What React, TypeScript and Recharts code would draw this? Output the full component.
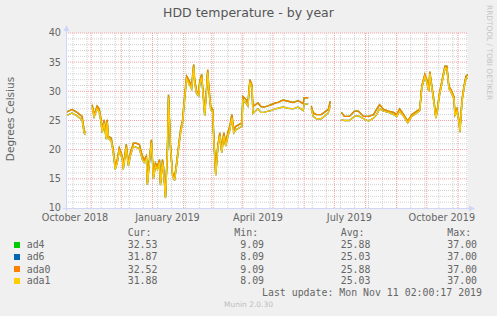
import React from "react";
import { LineChart, Line, XAxis, YAxis, CartesianGrid, ReferenceLine } from "recharts";

// day 0 = 2018-10-07, graph spans 400 days up to 2019-11-11
const START = Date.UTC(2018, 9, 7);
const dayOf = (y: number, m: number, d: number) => Math.round((Date.UTC(y, m - 1, d) - START) / 86400000);

const days = [
  0, 6, 11, 16, 18, 19, 20, 26, 28, 31,
  33, 35, 36, 38, 40, 41, 42, 45, 47, 49,
  51, 53, 56, 57, 60, 62, 64, 67, 70, 73,
  76, 78, 80, 81, 83, 85, 87, 89, 91, 93,
  94, 96, 97, 99, 101, 102, 104, 106, 108, 110,
  112, 114, 116, 118, 120, 122, 125, 127, 128, 130,
  132, 133, 135, 137, 138, 140, 141, 142, 144, 146,
  147, 149, 151, 153, 155, 157, 159, 161, 163, 165,
  167, 169, 172, 175, 176, 179, 181, 183, 185, 186,
  191, 194, 197, 201, 204, 208, 211, 216, 221, 226,
  231, 236, 237, 241, 242, 244, 246, 249, 254, 257,
  261, 263, 264, 274, 277, 282, 287, 291, 296, 301,
  306, 309, 312, 316, 321, 326, 329, 332, 336, 340,
  344, 349, 352, 354, 357, 359, 361, 362, 364, 366,
  368, 370, 371, 373, 375, 377, 379, 381, 383, 386,
  387, 389, 391, 392, 394, 396, 398, 400,
];

const ada0 = [
  26.4, 26.9, 26.4, 25.7, 23.4, 22.9, null, 27.7, 26.0, 27.5,
  27.0, 25.1, 23.4, 25.1, 22.3, 25.1, 22.3, 22.0, 20.0, 17.1,
  18.3, 20.3, 18.9, 17.1, 20.9, 17.7, 19.4, 21.1, 21.1, 20.9,
  18.9, 18.3, 18.9, 14.3, 18.3, 21.7, 15.4, 17.7, 17.1, 18.3,
  14.3, 18.3, 17.1, 12.0, 20.6, 29.4, 20.6, 16.0, 15.1, 17.7,
  20.6, 23.4, 25.1, 29.1, 32.6, 32.0, 30.9, 34.6, 32.0, 30.0,
  29.7, 31.7, 32.9, 28.6, 26.3, 30.9, 33.7, 31.0, 27.4, 26.9,
  22.3, 16.0, 20.6, 22.9, 20.0, 22.9, 21.1, 22.9, 24.0, 26.0,
  23.4, 24.0, 24.3, 24.6, 29.1, 28.6, 28.0, 32.0, 31.1, 27.4,
  28.0, 27.4, 27.3, 27.5, 27.7, 28.0, 28.1, 28.5, 28.3, 28.1,
  28.4, 27.9, 28.9, 28.9, null, 27.5, 26.3, 26.0, 26.0, 26.4,
  26.9, 28.3, null, 26.4, 25.7, 25.7, 26.6, 26.6, 25.7, 25.7,
  26.0, 26.9, 27.7, 26.9, 26.6, 26.4, 26.0, 27.0, 26.0, 24.9,
  26.0, 26.6, 26.9, 30.9, 32.9, 32.0, 30.3, 33.4, 31.0, 28.6,
  25.7, 27.4, 29.1, 30.9, 32.6, 34.3, 34.3, 30.9, 30.3, 29.1,
  26.3, 27.0, 25.1, 23.4, 28.6, 30.9, 32.6, 32.9,
];

const ada1 = [
  25.8, 26.3, 25.8, 25.1, 22.9, 22.5, null, 27.3, 25.6, 27.0,
  26.5, 24.6, 22.9, 24.5, 21.8, 24.7, 21.9, 21.5, 19.5, 16.6,
  17.8, 19.8, 18.4, 16.6, 20.4, 17.2, 18.9, 20.6, 20.4, 20.2,
  18.3, 17.8, 18.4, 14.0, 17.8, 21.2, 15.0, 17.2, 16.6, 17.8,
  13.9, 17.8, 16.6, 11.7, 20.1, 28.9, 20.1, 15.6, 14.7, 17.2,
  20.1, 22.9, 24.6, 28.6, 32.1, 31.5, 30.4, 34.1, 31.5, 29.5,
  29.2, 31.2, 32.4, 28.1, 25.8, 30.4, 33.2, 30.5, 26.9, 26.4,
  21.8, 15.6, 20.1, 22.4, 19.5, 22.3, 20.6, 22.3, 23.4, 25.4,
  22.9, 23.4, 23.7, 24.0, 28.5, 28.0, 27.5, 31.5, 30.6, 26.2,
  27.0, 26.4, 26.4, 26.6, 26.7, 27.0, 27.1, 27.3, 27.1, 27.0,
  27.3, 26.7, 27.8, 27.8, null, 27.0, 25.7, 25.3, 25.3, 25.7,
  26.3, 27.6, null, 25.1, 25.0, 25.0, 25.7, 25.8, 25.3, 24.9,
  25.4, 26.0, 27.0, 26.6, 26.4, 26.0, 25.7, 26.6, 25.7, 24.6,
  25.7, 26.3, 26.7, 30.5, 32.5, 31.6, 29.9, 33.0, 30.6, 28.2,
  25.4, 27.0, 28.7, 30.5, 32.2, 33.9, 33.9, 30.5, 29.9, 28.7,
  25.9, 26.6, 24.7, 23.0, 28.2, 30.5, 32.2, 32.4,
];

// ad4 / ad6 follow ada0 / ada1 (same averages) and are hidden underneath
const ad4 = ada0;
const ad6 = ada1;

const seriesNames = ["ad4", "ad6", "ada0", "ada1"];
const seriesColors = ["#00CC00", "#0066B3", "#FF8000", "#FFCC00"];
const curVals = ["32.53", "31.87", "32.52", "31.88"];
const minVals = ["9.09", "8.09", "9.09", "8.09"];
const avgVals = ["25.88", "25.03", "25.88", "25.03"];
const maxVals = ["37.00", "37.00", "37.00", "37.00"];

const xLabels = [
  { d: dayOf(2018, 10, 16), text: "October 2018" },
  { d: dayOf(2019, 1, 16), text: "January 2019" },
  { d: dayOf(2019, 4, 16), text: "April 2019" },
  { d: dayOf(2019, 7, 16), text: "July 2019" },
  { d: dayOf(2019, 10, 16), text: "October 2019" },
];
const monthStarts = [
  dayOf(2018, 11, 1), dayOf(2018, 12, 1), dayOf(2019, 1, 1), dayOf(2019, 2, 1),
  dayOf(2019, 3, 1), dayOf(2019, 4, 1), dayOf(2019, 5, 1), dayOf(2019, 6, 1),
  dayOf(2019, 7, 1), dayOf(2019, 8, 1), dayOf(2019, 9, 1), dayOf(2019, 10, 1),
  dayOf(2019, 11, 1),
];
const minorDays: number[] = [];
for (let d = 7; d < 400; d += 14) minorDays.push(d);
const yTicks = [10, 15, 20, 25, 30, 35, 40];
const yMinor: number[] = [];
for (let v = 11; v < 40; v++) if (v % 5 !== 0) yMinor.push(v);

const rows = days.map((d, i) => ({ d, ad4: ad4[i], ad6: ad6[i], ada0: ada0[i], ada1: ada1[i] }));

const MONO = "'DejaVu Sans Mono', monospace";
const SANS = "'DejaVu Sans', sans-serif";
const FONT = "#666666";
const AXIS = "#CFD6F8";

const colX = [127.7, 234.3, 340.7, 447.3];
const rowY = [245, 257, 269.5, 281];

export default function App() {
  const txt = (left: number, top: number, s: string, extra: React.CSSProperties = {}) => (
    <div
      style={{
        position: "absolute", left, top: top - 6, lineHeight: "12px", fontFamily: MONO,
        fontSize: 9.9, color: FONT, whiteSpace: "pre", ...extra,
      }}
    >
      {s}
    </div>
  );
  return (
    <div style={{ position: "absolute", left: 0, top: 0, width: 497, height: 316, background: "#F0F0F0", overflow: "hidden" }}>
      <LineChart width={497} height={316} data={rows} margin={{ top: 33, right: 29, bottom: 88, left: 10 }}>
        <CartesianGrid fill="#FFFFFF" stroke="none" horizontal={false} vertical={false} />
        {minorDays.map((d) => (
          <ReferenceLine key={"mx" + d} x={d} stroke="#D0D0D0" strokeDasharray="1 1" />
        ))}
        {yMinor.map((v) => (
          <ReferenceLine key={"my" + v} y={v} stroke="#D0D0D0" strokeDasharray="1 1" />
        ))}
        {monthStarts.map((d) => (
          <ReferenceLine key={"Mx" + d} x={d} stroke="#F4A0A0" strokeDasharray="1 1" />
        ))}
        {yTicks.slice(1).map((v) => (
          <ReferenceLine key={"My" + v} y={v} stroke="#F4A0A0" strokeDasharray="1 1" />
        ))}
        <XAxis
          dataKey="d" type="number" domain={[0, 400]} allowDataOverflow
          ticks={xLabels.map((l) => l.d)} interval={0}
          tickFormatter={(v: number) => xLabels.find((l) => l.d === v)?.text ?? ""}
          height={20} tickSize={0} tickMargin={6} axisLine={false} tickLine={false}
          tick={{ fill: FONT, fontSize: 9.7, fontFamily: SANS }}
        />
        <YAxis
          type="number" domain={[10, 40]} ticks={yTicks} interval={0} width={56}
          tickSize={0} tickMargin={5} axisLine={false} tickLine={false}
          tick={{ fill: FONT, fontSize: 9.7, fontFamily: SANS }}
        />
        {seriesNames.map((n, i) => (
          <Line
            key={n} dataKey={n} type="linear" stroke={seriesColors[i]} strokeWidth={1.4}
            dot={false} activeDot={false} connectNulls={false} isAnimationActive={false}
          />
        ))}
      </LineChart>

      <svg width={497} height={316} style={{ position: "absolute", left: 0, top: 0, pointerEvents: "none" }}>
        <line x1={66.5} y1={211} x2={66.5} y2={30} stroke={AXIS} strokeWidth={1} />
        <polygon points="63.5,31 69.5,31 66.5,25" fill={AXIS} />
        <line x1={63} y1={208.5} x2={470} y2={208.5} stroke={AXIS} strokeWidth={1} />
        <polygon points="469,205.5 469,211.5 475,208.5" fill={AXIS} />
        <text
          transform="translate(14,119) rotate(-90)" textAnchor="middle"
          fontFamily={SANS} fontSize={10.5} fill={FONT}
        >
          Degrees Celsius
        </text>
        <text
          transform="translate(487,5) rotate(90)" textAnchor="start"
          fontFamily={SANS} fontSize={7.4} fill="#C4C4C4"
        >
          RRDTOOL / TOBI OETIKER
        </text>
      </svg>

      <div
        style={{
          position: "absolute", left: 0, width: 497, top: 5, textAlign: "center",
          fontFamily: SANS, fontSize: 12.5, color: "#555555", lineHeight: "16px",
        }}
      >
        HDD temperature - by year
      </div>

      {txt(colX[0], 233.3, "Cur:")}
      {txt(colX[1], 233.3, "Min:")}
      {txt(colX[2], 233.3, "Avg:")}
      {txt(colX[3], 233.3, "Max:")}
      {seriesNames.map((n, i) => (
        <React.Fragment key={n}>
          <div
            style={{
              position: "absolute", left: 14, top: rowY[i] - 3.5, width: 6, height: 6,
              background: seriesColors[i],
            }}
          />
          {txt(26.7, rowY[i], n)}
          {txt(colX[0], rowY[i], curVals[i].padStart(5))}
          {txt(colX[1], rowY[i], minVals[i].padStart(5))}
          {txt(colX[2], rowY[i], avgVals[i].padStart(5))}
          {txt(colX[3], rowY[i], maxVals[i].padStart(5))}
        </React.Fragment>
      ))}
      {txt(262, 293, "Last update: Mon Nov 11 02:00:17 2019")}
      <div
        style={{
          position: "absolute", left: 0, width: 497, top: 299, textAlign: "center",
          fontFamily: SANS, fontSize: 7.5, color: "#BDBDBD", lineHeight: "12px",
        }}
      >
        Munin 2.0.30
      </div>
    </div>
  );
}
